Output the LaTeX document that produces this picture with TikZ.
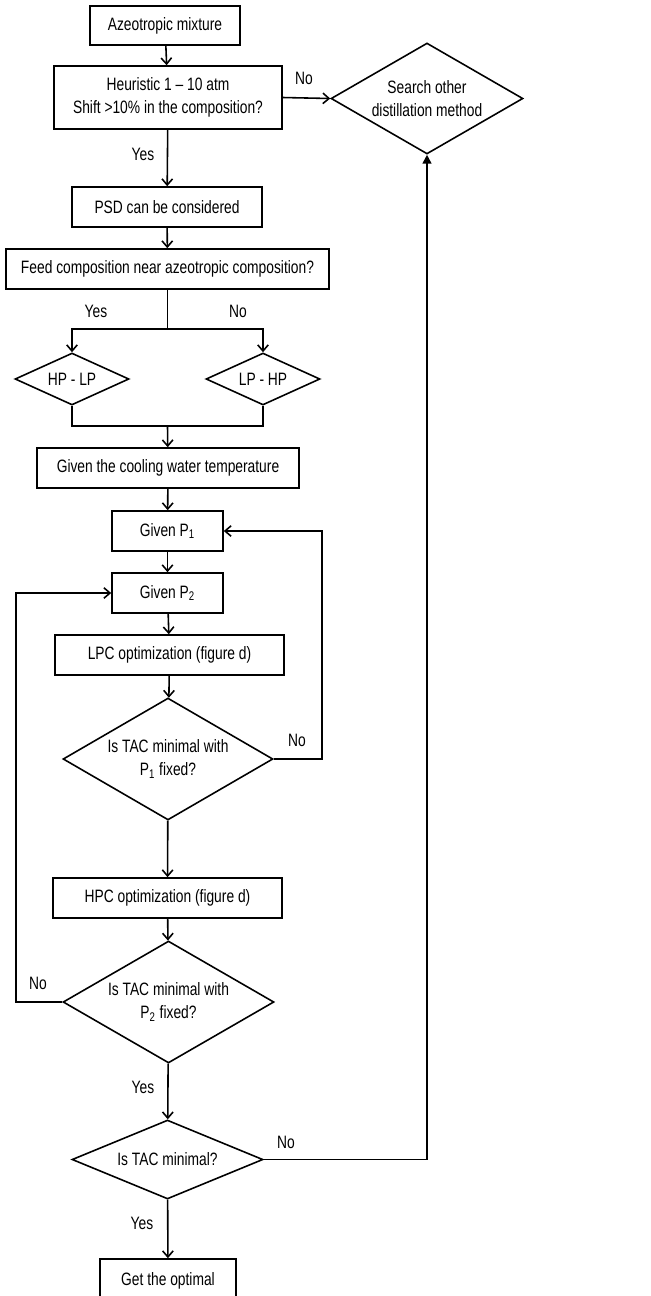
\documentclass[tikz,border=0pt]{standalone}
\usepackage{fontspec}
\setmainfont{Liberation Sans}[FakeStretch=0.77]
\usetikzlibrary{shapes.geometric,arrows.meta}

\begin{document}
\begin{tikzpicture}[x=0.02cm,y=-0.02cm,node font=\fontsize{10.2}{13}\selectfont,
	box/.style={draw,line width=0.9pt,align=center,inner sep=0pt},
	decide/.style={draw,diamond,line width=0.9pt,align=center,inner sep=0pt,aspect=2},
	line/.style={line width=0.9pt},
	arr/.style={line width=0.9pt,-{Straight Barb[length=3.5pt,width=6pt]}}]
			\path[use as bounding box] (0,0) rectangle (650,1296);
			\clip (0,0) rectangle (650,1296);
			% boxes
			\node[box,minimum width=3cm,minimum height=0.78cm] (mix) at (165,25.5) {Azeotropic mixture};
			\node[box,minimum width=4.56cm,minimum height=1.26cm] (heur) at (168,97.5) {Heuristic 1 -- 10 atm\\Shift >10\% in the composition?};
			\node[decide,minimum width=3.84cm,minimum height=2.22cm] (search) at (427,98.5) {Search other\\distillation method};
			\node[box,minimum width=3.8cm,minimum height=0.8cm] (psd) at (167,207) {PSD can be considered};
			\node[box,minimum width=6.46cm,minimum height=0.8cm] (feed) at (167.5,269) {Feed composition near azeotropic composition?};
			\node[decide,minimum width=2.28cm,minimum height=1.04cm] (hplp) at (72,379) {HP - LP};
			\node[decide,minimum width=2.28cm,minimum height=1.04cm] (lphp) at (263,379) {LP - HP};
			\node[box,minimum width=5.24cm,minimum height=0.8cm] (cool) at (168,468) {Given the cooling water temperature};
			\node[box,minimum width=2.22cm,minimum height=0.8cm] (pone) at (167.5,531) {Given P\textsubscript{1}};
			\node[box,minimum width=2.22cm,minimum height=0.8cm] (ptwo) at (167.5,593) {Given P\textsubscript{2}};
			\node[box,minimum width=4.58cm,minimum height=0.8cm] (lpc) at (169.5,655) {LPC optimization (figure d)};
			\node[decide,minimum width=4.2cm,minimum height=2.44cm] (tacone) at (168,759) {Is TAC minimal with\\P\textsubscript{1} fixed?};
			\node[box,minimum width=4.58cm,minimum height=0.8cm] (hpc) at (167.5,898) {HPC optimization (figure d)};
			\node[decide,minimum width=4.22cm,minimum height=2.44cm] (tactwo) at (168.5,1002) {Is TAC minimal with\\P\textsubscript{2} fixed?};
			\node[decide,minimum width=3.82cm,minimum height=1.58cm] (tac) at (167.5,1159.5) {Is TAC minimal?};
			\node[box,minimum width=2.72cm,minimum height=0.88cm] (opt) at (168,1281) {Get the optimal};
			% labels
			\node (noa) at (304,78) {No};
			\node (yesa) at (143,154) {Yes};
			\node (yesb) at (96,311) {Yes};
			\node (nob) at (238,311) {No};
			\node (noc) at (297,740) {No};
			\node (nod) at (38,983) {No};
			\node (yesc) at (143,1087) {Yes};
			\node (noe) at (286,1142) {No};
			\node (yesd) at (142,1223) {Yes};
			% connectors
			\coordinate (split) at (167.5,329);
			\coordinate (merge) at (167.5,426);
			\coordinate (rone) at (322,531);
			\coordinate (ltwo) at (16,593);
			\draw[arr] (mix) -- (heur);
			\draw[arr] (heur.east) -- (search.west);
			\draw[arr] (heur) -- (psd);
			\draw[arr] (psd) -- (feed);
			\draw[line] (feed) -- (split);
			\draw[arr] (split) -| (hplp.north);
			\draw[arr] (split) -| (lphp.north);
			\draw[line] (hplp.south) |- (merge);
			\draw[line] (lphp.south) |- (merge);
			\draw[arr] (merge) -- (cool);
			\draw[arr] (cool) -- (pone);
			\draw[arr] (pone) -- (ptwo);
			\draw[arr] (ptwo) -- (lpc);
			\draw[arr] (lpc) -- (tacone);
			\draw[arr] (tacone.east) -| (rone) -- (pone.east);
			\draw[arr] (tacone) -- (hpc);
			\draw[arr] (hpc) -- (tactwo);
			\draw[arr] (tactwo.west) -| (ltwo) -- (ptwo.west);
			\draw[arr] (tactwo) -- (tac);
			\draw[line,-{Triangle[length=5pt,width=5pt]}] (tac.east) -| (search.south);
			\draw[arr] (tac) -- (opt);
		\end{tikzpicture}
\end{document}
